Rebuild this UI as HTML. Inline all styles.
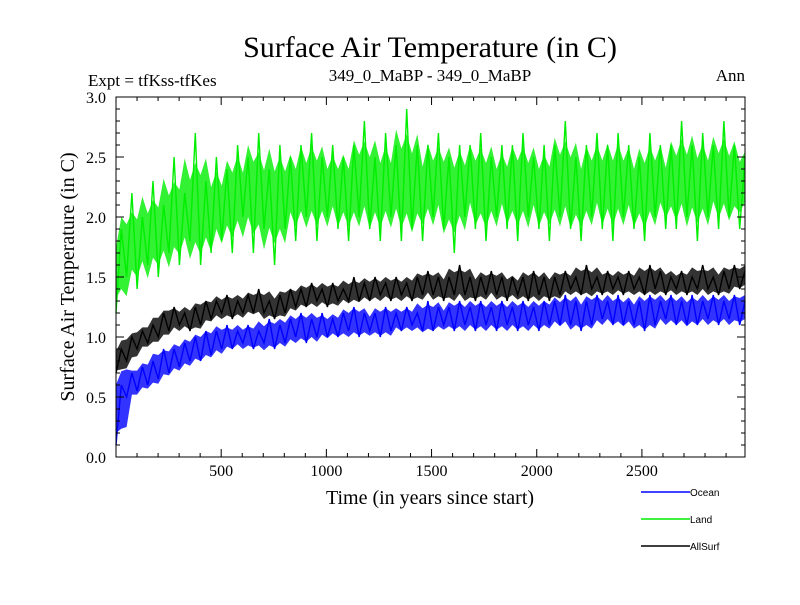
<!DOCTYPE html>
<html><head><meta charset="utf-8"><style>
body{margin:0;background:#fff}
svg text{font-family:"Liberation Serif",serif}
</style></head><body>
<svg id="c" width="800" height="600" xmlns="http://www.w3.org/2000/svg">
<rect width="800" height="600" fill="#fff"/>
<text x="430" y="57" font-size="30" text-anchor="middle">Surface Air Temperature (in C)</text>
<text x="88" y="86" font-size="17">Expt = tfKss-tfKes</text>
<text x="430" y="81" font-size="17" text-anchor="middle">349_0_MaBP - 349_0_MaBP</text>
<text x="745" y="81" font-size="17" text-anchor="end">Ann</text>
<text x="430" y="504" font-size="20" text-anchor="middle">Time (in years since start)</text>
<text transform="translate(74,277) rotate(-90)" font-size="20" text-anchor="middle">Surface Air Temperature (in C)</text>
<g id="series"></g>
<g id="axes"></g>
<g id="legend"></g>
</svg>
<script>
const xTicks=[500,1000,1500,2000,2500];
const yTicks=[0.0,0.5,1.0,1.5,2.0,2.5,3.0];
const seriesNames=["Land","Ocean","AllSurf"];
const land=[1.2,1.9,1.5,2.2,1.4,2.0,1.6,2.3,1.5,2.1,1.7,2.5,1.6,2.2,1.8,2.7,1.6,2.3,1.7,2.5,1.8,2.4,1.7,2.6,2.0,2.5,1.7,2.7,1.9,2.4,1.6,2.6,1.9,2.5,1.8,2.6,2.0,2.7,1.8,2.5,2.0,2.6,1.9,2.5,1.8,2.6,2.0,2.8,1.9,2.5,1.8,2.7,2.0,2.6,1.8,2.9,1.9,2.6,1.8,2.6,2.0,2.7,1.9,2.5,1.7,2.6,2.0,2.6,1.9,2.7,1.8,2.5,2.0,2.6,1.9,2.6,1.8,2.7,2.0,2.5,1.9,2.6,1.8,2.6,2.0,2.8,1.9,2.5,1.8,2.6,2.0,2.7,1.9,2.6,1.8,2.7,2.0,2.6,1.9,2.5,1.8,2.7,2.0,2.6,1.9,2.6,1.9,2.8,2.0,2.6,1.8,2.7,2.0,2.6,1.9,2.8,2.0,2.6,1.9,2.5];
const ocean=[0.1,0.6,0.5,0.7,0.55,0.75,0.6,0.8,0.65,0.9,0.7,0.9,0.75,0.95,0.8,1.0,0.8,1.05,0.85,1.05,0.9,1.1,0.9,1.05,0.95,1.1,0.9,1.05,0.95,1.15,0.9,1.1,0.95,1.15,1.0,1.2,0.95,1.15,1.0,1.2,1.0,1.15,1.0,1.2,1.05,1.25,1.0,1.2,1.05,1.2,1.0,1.25,1.05,1.2,1.05,1.25,1.1,1.2,1.05,1.3,1.05,1.25,1.1,1.25,1.05,1.3,1.1,1.25,1.05,1.3,1.1,1.25,1.05,1.3,1.1,1.25,1.05,1.3,1.1,1.25,1.05,1.3,1.1,1.3,1.1,1.35,1.1,1.3,1.05,1.3,1.1,1.35,1.15,1.3,1.1,1.35,1.1,1.3,1.1,1.3,1.05,1.35,1.1,1.3,1.15,1.35,1.1,1.3,1.1,1.35,1.1,1.3,1.15,1.35,1.1,1.3,1.15,1.35,1.1,1.3];
const allSurf=[0.7,0.9,0.8,1.0,0.9,1.05,0.95,1.1,1.0,1.2,1.05,1.25,1.1,1.2,1.05,1.25,1.1,1.3,1.15,1.3,1.2,1.35,1.15,1.3,1.2,1.35,1.2,1.4,1.2,1.3,1.15,1.35,1.2,1.4,1.25,1.4,1.25,1.45,1.3,1.4,1.25,1.45,1.3,1.4,1.3,1.5,1.3,1.45,1.3,1.5,1.35,1.45,1.3,1.5,1.35,1.45,1.3,1.5,1.35,1.55,1.35,1.5,1.3,1.5,1.35,1.6,1.35,1.5,1.3,1.5,1.35,1.55,1.35,1.5,1.3,1.5,1.35,1.5,1.3,1.55,1.35,1.5,1.3,1.5,1.35,1.55,1.4,1.5,1.35,1.6,1.4,1.5,1.35,1.55,1.4,1.5,1.35,1.55,1.4,1.5,1.35,1.6,1.4,1.55,1.35,1.5,1.4,1.55,1.35,1.5,1.4,1.6,1.4,1.5,1.35,1.55,1.4,1.6,1.4,1.55];
const X0=116,X1=745,Y0=457,Y1=97,XMAX=2990,YMAX=3.0;
const NS="http://www.w3.org/2000/svg";
function sx(v){return X0+(v/XMAX)*(X1-X0);}
function sy(v){return Y0-(v/YMAX)*(Y0-Y1);}
function mk(t,a,p){const e=document.createElementNS(NS,t);for(const k in a)e.setAttribute(k,a[k]);p.appendChild(e);return e;}
const sg=document.getElementById('series');
function drawSeries(vals,color,name,bandK){
  const step=XMAX/(vals.length-1);
  const up=[],lo=[];
  for(let i=0;i<vals.length;i++){
    const w=vals.slice(Math.max(0,i-2),Math.min(vals.length,i+3));
    const m=w.reduce((a,b)=>a+b,0)/w.length;
    const a=(Math.max(...w)-Math.min(...w))/2;
    up.push(sx(i*step).toFixed(1)+","+sy(m+bandK*a).toFixed(1));
    lo.push(sx(i*step).toFixed(1)+","+sy(m-bandK*a).toFixed(1));
  }
  const band=mk('polygon',{points:up.concat(lo.reverse()).join(" "),fill:color,'fill-opacity':0.8,stroke:'none'},sg);
  
  
  const pts=vals.map((v,i)=>sx(i*step).toFixed(1)+","+sy(v).toFixed(1)).join(" ");
  const pl=mk('polyline',{points:pts,fill:'none',stroke:color,'stroke-width':1.4,'stroke-linejoin':'miter'},sg);
  
  
}
drawSeries(land,'#00ee00','land-series',0.6);
drawSeries(ocean,'#0000ff','ocean-series',0.8);
drawSeries(allSurf,'#000000','allsurf-series',0.8);
const ag=document.getElementById('axes');
const fr=mk('rect',{x:X0,y:Y1,width:X1-X0,height:Y0-Y1,fill:'none',stroke:'#000','stroke-width':1},ag);


for(let v=100;v<XMAX;v+=100){const big=v%500===0;mk('line',{x1:sx(v),x2:sx(v),y1:Y0,y2:Y0-(big?8:4),stroke:'#000'},ag);mk('line',{x1:sx(v),x2:sx(v),y1:Y1,y2:Y1+(big?8:4),stroke:'#000'},ag);}
for(let i=1;i<30;i++){const v=i/10;const big=i%5===0;mk('line',{x1:X0,x2:X0+(big?8:4),y1:sy(v),y2:sy(v),stroke:'#000'},ag);mk('line',{x1:X1,x2:X1-(big?8:4),y1:sy(v),y2:sy(v),stroke:'#000'},ag);}
xTicks.forEach(v=>{const t=mk('text',{x:sx(v),y:476,'font-size':16,'text-anchor':'middle'},ag);t.textContent=v;

});
yTicks.forEach(v=>{const t=mk('text',{x:106,y:sy(v)+6,'font-size':16,'text-anchor':'end'},ag);t.textContent=v.toFixed(1);

});
const lg=document.getElementById('legend');
const lcol=['#0000ff','#00ee00','#000000'],ltxt=['Ocean','Land','AllSurf'];
ltxt.forEach((n,i)=>{const y=492+i*27;
const g=mk('g',{},lg);


mk('line',{x1:641,x2:690,y1:y,y2:y,stroke:lcol[i],'stroke-width':1.5},g);
const t=mk('text',{x:690,y:y+4,'font-size':10,style:'font-family:"Liberation Sans",sans-serif'},g);t.textContent=n;});
</script>
</body></html>
